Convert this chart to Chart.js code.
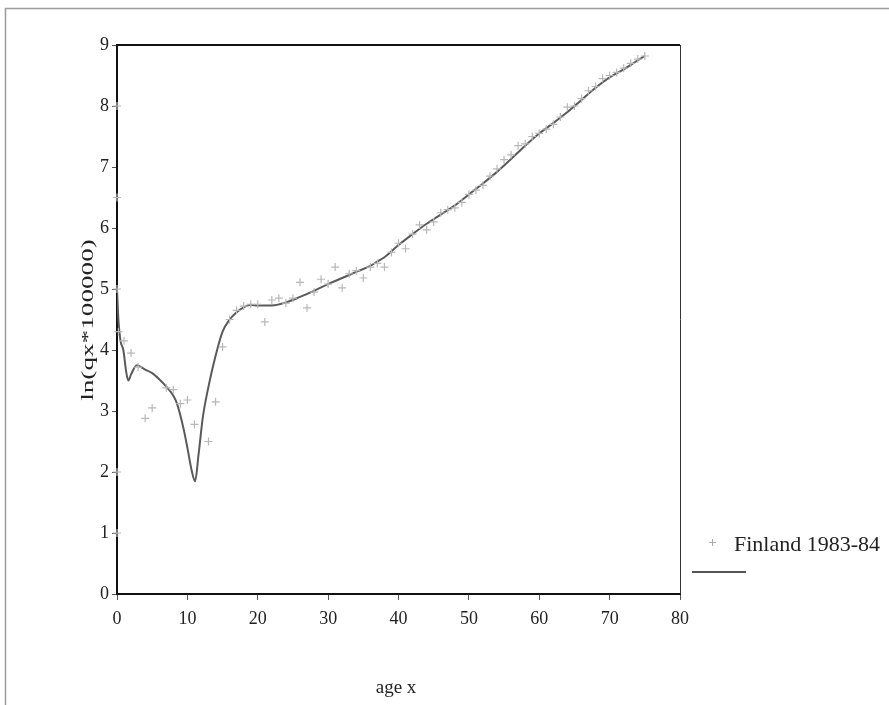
<!DOCTYPE html>
<html>
<head>
<meta charset="utf-8">
<script src="https://cdn.jsdelivr.net/npm/chart.js@4/dist/chart.umd.min.js"></script>
<style>
  html, body { margin: 0; padding: 0; background: #fff; }
  #wrap { width: 889px; height: 705px; position: relative; }
</style>
</head>
<body>
<div id="wrap"><canvas id="chart"></canvas></div>
<script>
// Observed ln(qx*100000), Finland 1983-84
const obsAges = [0, 0, 0, 0.2, 0, 0,
  1, 2, 3, 4, 5, 7, 8, 9, 10, 11, 13, 14, 15, 16, 17, 18, 19, 20,
  21, 22, 23, 24, 25, 26, 27, 28, 29, 30, 31, 32, 33, 34, 35, 36, 37, 38, 39, 40,
  41, 42, 43, 44, 45, 46, 47, 48, 49, 50, 51, 52, 53, 54, 55, 56, 57, 58, 59, 60,
  61, 62, 63, 64, 65, 66, 67, 68, 69, 70, 71, 72, 73, 74, 75];
const obsValues = [8.0, 6.5, 5.0, 4.3, 2.0, 1.0,
  4.15, 3.95, 3.72, 2.88, 3.05, 3.38, 3.35, 3.12, 3.18, 2.78, 2.5, 3.15, 4.05, 4.5, 4.65, 4.72, 4.75, 4.75,
  4.46, 4.82, 4.85, 4.77, 4.85, 5.11, 4.69, 4.95, 5.16, 5.08, 5.36, 5.02, 5.25, 5.3, 5.18, 5.36, 5.42, 5.36, 5.6, 5.75,
  5.66, 5.9, 6.05, 5.97, 6.1, 6.25, 6.3, 6.33, 6.42, 6.55, 6.62, 6.7, 6.85, 6.97, 7.12, 7.2, 7.35, 7.38, 7.5, 7.55,
  7.62, 7.7, 7.82, 7.98, 8.0, 8.12, 8.25, 8.32, 8.45, 8.5, 8.55, 8.62, 8.7, 8.77, 8.82];

// fitted curve
const fitAges = [0, 0.2, 0.5, 0.9, 1.3, 1.6, 2, 2.8, 4, 5, 6, 7, 8, 8.5, 9.4, 10, 10.6, 11.1, 11.6, 12.2, 13, 14, 15, 16, 17, 18, 19, 20,
  22, 24, 26, 28, 30, 32, 34, 36, 37, 38, 40, 42, 44, 46, 48, 50, 52, 54, 56, 58, 60, 62, 64, 66, 68, 70, 72, 74, 75];
const fitValues = [5.0, 4.5, 4.15, 4.0, 3.65, 3.5, 3.6, 3.75, 3.68, 3.62, 3.52, 3.4, 3.25, 3.13, 2.74, 2.4, 2.03, 1.85, 2.3, 2.9, 3.4, 3.9, 4.3, 4.5, 4.62, 4.7, 4.74, 4.73,
  4.73, 4.78, 4.87, 4.97, 5.08, 5.18, 5.28, 5.38, 5.45, 5.52, 5.72, 5.9, 6.07, 6.22, 6.37, 6.55, 6.73, 6.92, 7.13, 7.35, 7.55, 7.72, 7.9, 8.1, 8.3, 8.47, 8.6, 8.75, 8.82];

const xTicks = [0, 10, 20, 30, 40, 50, 60, 70, 80];
const yTicks = [0, 1, 2, 3, 4, 5, 6, 7, 8, 9];
const seriesLabel = 'Finland 1983-84';

const SERIF = '"Liberation Serif", "DejaVu Serif", serif';

// frame, plot box, axis titles and legend
const decor = {
  id: 'decor',
  beforeDraw(chart) {
    const c = chart.ctx;
    c.save();
    c.fillStyle = '#fff';
    c.fillRect(0, 0, chart.width, chart.height);
    c.strokeStyle = '#9a9a9a';
    c.lineWidth = 1.5;
    c.beginPath();
    c.moveTo(5.5, 705); c.lineTo(5.5, 8.5); c.lineTo(889, 8.5);
    c.stroke();
    c.restore();
  },
  afterDatasetsDraw(chart) {
    const c = chart.ctx, a = chart.chartArea;
    c.save();
    c.strokeStyle = '#111';
    c.lineWidth = 2;
    c.beginPath();
    c.moveTo(a.left, a.top); c.lineTo(a.right, a.top);
    c.stroke();
    c.lineWidth = 1;
    c.strokeStyle = '#333';
    c.beginPath();
    c.moveTo(a.right + 0.5, a.top); c.lineTo(a.right + 0.5, a.bottom);
    c.stroke();

    c.fillStyle = '#222';
    c.font = '19px ' + SERIF;
    c.textAlign = 'center';
    c.textBaseline = 'middle';
    c.fillText('age x', 396, 688);
    c.font = '16px ' + SERIF;
    c.translate(89, 320);
    c.rotate(-Math.PI / 2);
    c.scale(1.7, 1);
    c.fillText('ln(qx*100000)', 0, 0);
    c.restore();

    // legend
    c.save();
    c.strokeStyle = '#aaa';
    c.lineWidth = 1;
    c.beginPath();
    c.moveTo(709, 542.5); c.lineTo(716, 542.5);
    c.moveTo(712.5, 539); c.lineTo(712.5, 546);
    c.stroke();
    c.fillStyle = '#222';
    c.font = '22px ' + SERIF;
    c.textAlign = 'left';
    c.textBaseline = 'middle';
    c.fillText(seriesLabel, 734, 545);
    c.strokeStyle = '#555';
    c.lineWidth = 2;
    c.beginPath();
    c.moveTo(692, 572); c.lineTo(746, 572);
    c.stroke();
    c.restore();
  }
};

const ctx = document.getElementById('chart').getContext('2d');
new Chart(ctx, {
  type: 'scatter',
  data: {
    datasets: [
      {
        label: seriesLabel,
        data: obsAges.map((x, i) => ({ x, y: obsValues[i] })),
        pointStyle: 'cross', pointRadius: 4, pointHoverRadius: 4,
        borderColor: '#b8b8b8', backgroundColor: '#b8b8b8', borderWidth: 1.2,
        clip: false,
      },
      {
        type: 'line',
        label: '',
        data: fitAges.map((x, i) => ({ x, y: fitValues[i] })),
        borderColor: '#5a5a5a', backgroundColor: 'transparent',
        borderWidth: 2, pointRadius: 0, tension: 0.3, cubicInterpolationMode: 'monotone',
      },
    ],
  },
  options: {
    responsive: true, maintainAspectRatio: false, animation: false,
    layout: { padding: { left: 0, top: 45, right: 209, bottom: 0 } },
    plugins: { legend: { display: false }, tooltip: { enabled: false } },
    scales: {
      x: {
        type: 'linear', min: 0, max: 80,
        afterFit: s => { s.height = 111; },
        afterBuildTicks: s => { s.ticks = xTicks.map(v => ({ value: v })); },
        grid: { drawOnChartArea: false, drawTicks: true, tickLength: 6, color: '#555' },
        border: { display: true, color: '#111', width: 2 },
        ticks: { color: '#222', padding: 8, maxRotation: 0, font: { family: SERIF, size: 18 } },
      },
      y: {
        type: 'linear', min: 0, max: 9,
        afterFit: s => { s.width = 117; },
        afterBuildTicks: s => { s.ticks = yTicks.map(v => ({ value: v })); },
        grid: { drawOnChartArea: false, drawTicks: true, tickLength: 5, color: '#555' },
        border: { display: true, color: '#111', width: 2 },
        ticks: { color: '#222', padding: 3, font: { family: SERIF, size: 18 } },
      },
    },
  },
  plugins: [decor],
});
</script>
</body>
</html>
